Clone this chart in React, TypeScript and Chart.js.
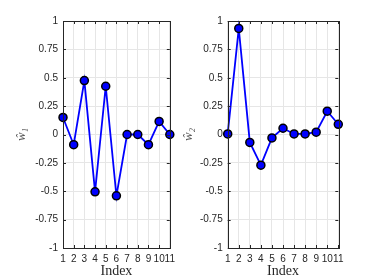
import React, { useEffect, useRef } from "react";
import { Chart, registerables } from "chart.js";

Chart.register(...registerables);

const indices = [1, 2, 3, 4, 5, 6, 7, 8, 9, 10, 11];
const w1 = [0.15, -0.09, 0.475, -0.505, 0.425, -0.54, 0, 0, -0.09, 0.115, 0];
const w2 = [0.005, 0.935, -0.07, -0.27, -0.03, 0.055, 0.005, 0.005, 0.02, 0.205, 0.09];
const yTicks = [-1, -0.75, -0.5, -0.25, 0, 0.25, 0.5, 0.75, 1];
const xLabel = "Index";
const yLabels = ["ŵ₁", "ŵ₂"];

type Panel = {
  values: number[];
  yLabel: string;
  canvasLeft: number;
  canvasWidth: number;
  areaLeft: number;
  areaRight: number;
  titleX: number;
};

const TOP = 21;
const BOTTOM = 248;

function makeChart(canvas: HTMLCanvasElement, p: Panel) {
  const axisColor = "#262626";
  const framePlugin = {
    id: "frame",
    afterDraw(chart: any) {
      const ctx = chart.ctx;
      const a = chart.chartArea;
      const xs = chart.scales.x;
      const ys = chart.scales.y;
      ctx.save();
      ctx.strokeStyle = axisColor;
      ctx.lineWidth = 1;
      ctx.beginPath();
      for (const v of yTicks) {
        const y = Math.round(ys.getPixelForValue(v)) + 0.5;
        ctx.moveTo(a.left, y);
        ctx.lineTo(a.left + 3, y);
        ctx.moveTo(a.right, y);
        ctx.lineTo(a.right - 3, y);
      }
      for (const v of indices) {
        const x = Math.round(xs.getPixelForValue(v)) + 0.5;
        ctx.moveTo(x, a.bottom);
        ctx.lineTo(x, a.bottom - 3);
        ctx.moveTo(x, a.top);
        ctx.lineTo(x, a.top + 3);
      }
      ctx.stroke();
      ctx.strokeRect(Math.round(a.left) + 0.5, Math.round(a.top) + 0.5, Math.round(a.right - a.left), Math.round(a.bottom - a.top));
      ctx.fillStyle = axisColor;
      ctx.font = "14px 'Liberation Serif'";
      ctx.textAlign = "center";
      ctx.textBaseline = "middle";
      ctx.fillText(xLabel, (a.left + a.right) / 2, 271);
      ctx.translate(p.titleX, (a.top + a.bottom) / 2);
      ctx.rotate(-Math.PI / 2);
      ctx.fillStyle = "#555555";
      ctx.font = "italic 13px 'Liberation Serif'";
      ctx.fillText(p.yLabel, 0, 0);
      ctx.restore();
    },
  };

  return new Chart(canvas, {
    type: "line",
    data: {
      datasets: [
        {
          data: indices.map((x, i) => ({ x, y: p.values[i] })),
          borderColor: "#0000ff",
          borderWidth: 1.8,
          backgroundColor: "#0000ff",
          pointBackgroundColor: "#0000ff",
          pointBorderColor: "#000000",
          pointBorderWidth: 1.5,
          pointRadius: 4,
          tension: 0,
          clip: false as any,
        },
      ],
    },
    options: {
      responsive: false,
      animation: false,
      layout: { padding: { top: TOP, right: p.canvasWidth - p.areaRight, left: 0, bottom: 0 } },
      plugins: { legend: { display: false }, tooltip: { enabled: false } },
      scales: {
        x: {
          type: "linear",
          min: 1,
          max: 11,
          afterBuildTicks: (s: any) => {
            s.ticks = indices.map((v) => ({ value: v }));
          },
          afterFit: (s: any) => {
            s.height = 280 - BOTTOM;
          },
          grid: { color: "#e6e6e6", drawTicks: false, lineWidth: 1 },
          border: { display: false },
          ticks: {
            color: axisColor,
            font: { family: "'Liberation Sans'", size: 10 },
            padding: 5,
            maxRotation: 0,
            autoSkip: false,
            callback: (v: any) => String(v),
          },
        },
        y: {
          type: "linear",
          min: -1,
          max: 1,
          afterBuildTicks: (s: any) => {
            s.ticks = yTicks.map((v) => ({ value: v }));
          },
          afterFit: (s: any) => {
            s.width = p.areaLeft;
          },
          grid: { color: "#e6e6e6", drawTicks: false, lineWidth: 1 },
          border: { display: false },
          ticks: {
            color: axisColor,
            font: { family: "'Liberation Sans'", size: 10 },
            padding: 5,
            autoSkip: false,
            callback: (v: any) => String(v),
          },
        },
      },
    },
    plugins: [framePlugin],
  } as any);
}

function PanelChart({ p }: { p: Panel }) {
  const ref = useRef<HTMLCanvasElement | null>(null);
  useEffect(() => {
    if (!ref.current) return;
    const c = makeChart(ref.current, p);
    return () => c.destroy();
  }, []);
  return (
    <canvas
      ref={ref}
      width={p.canvasWidth}
      height={280}
      style={{ position: "absolute", left: p.canvasLeft, top: 0, width: p.canvasWidth, height: 280 }}
    />
  );
}

const panels: Panel[] = [
  { values: w1, yLabel: yLabels[0], canvasLeft: 0, canvasWidth: 180, areaLeft: 63, areaRight: 174, titleX: 22 },
  { values: w2, yLabel: yLabels[1], canvasLeft: 180, canvasWidth: 194, areaLeft: 47.7, areaRight: 158.3, titleX: 9 },
];

export default function App() {
  return (
    <div style={{ position: "fixed", left: 0, top: 0, width: 374, height: 280, background: "#fff" }}>
      {panels.map((p, i) => (
        <PanelChart key={i} p={p} />
      ))}
    </div>
  );
}
